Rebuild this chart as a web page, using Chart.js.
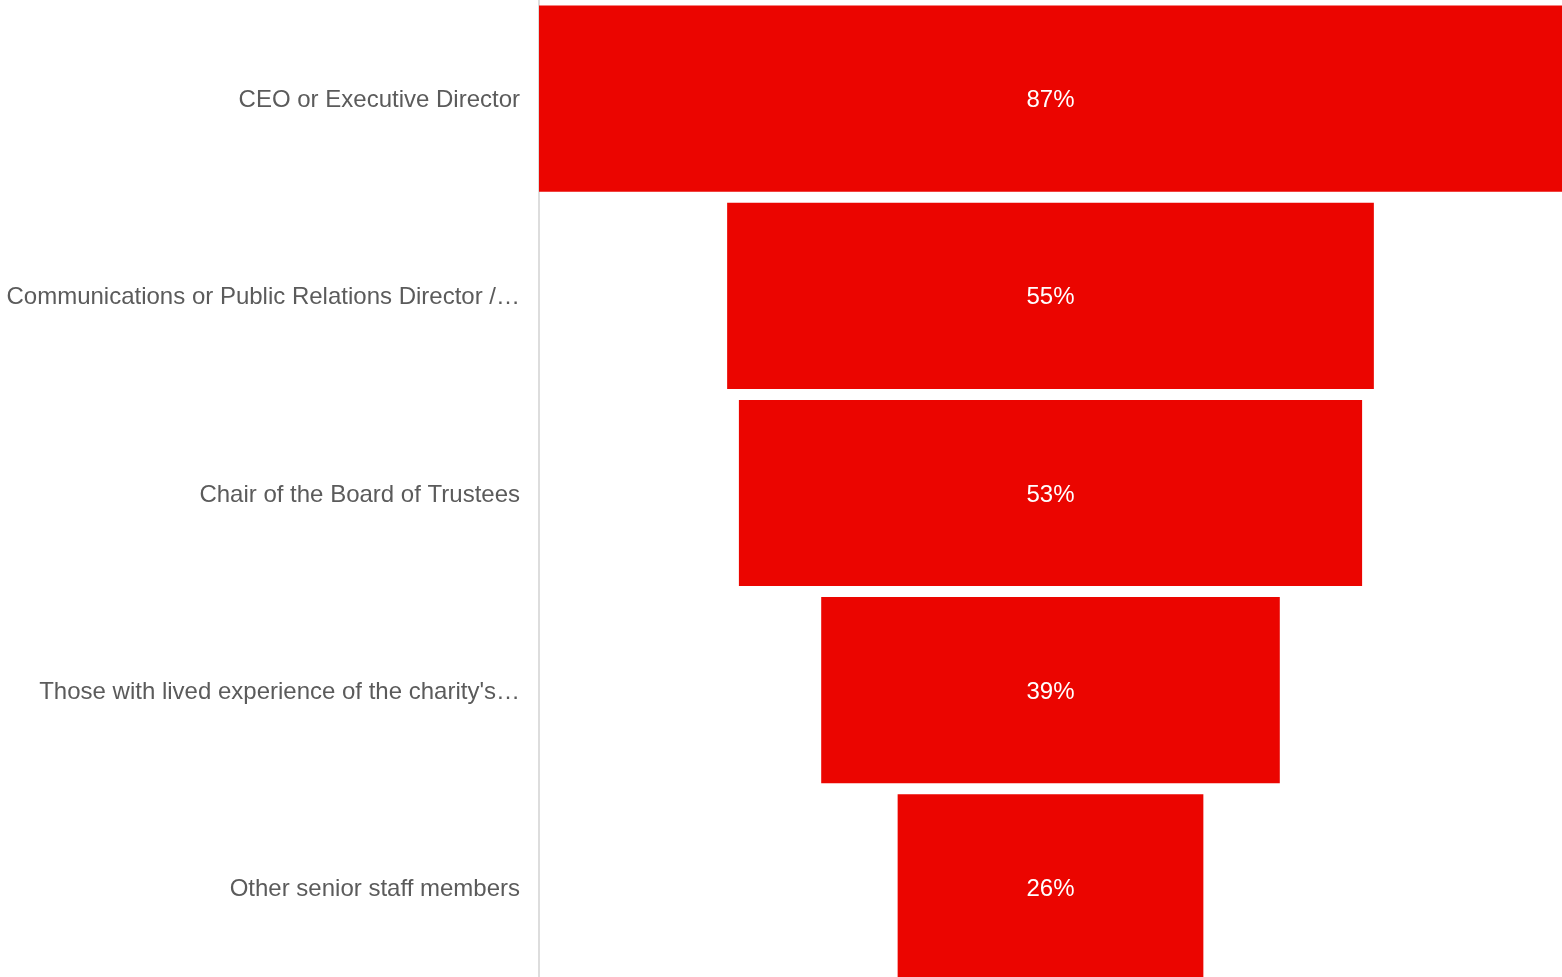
<!DOCTYPE html>
<html>
<head>
<meta charset="utf-8">
<script src="https://cdn.jsdelivr.net/npm/chart.js@4"></script>
<style>
  html, body { margin: 0; padding: 0; background: #ffffff; overflow: hidden; }
  #wrap { position: relative; width: 1562px; height: 986px; }
</style>
</head>
<body>
<div id="wrap"><canvas id="chart"></canvas></div>
<script>
// Who is involved: share of respondents per role
const categories = [
  "CEO or Executive Director",
  "Communications or Public Relations Director /\u2026",
  "Chair of the Board of Trustees",
  "Those with lived experience of the charity's\u2026",
  "Other senior staff members"
];
const shares = [87, 55, 53, 39, 26];
const valueLabels = ["87%", "55%", "53%", "39%", "26%"];

const maxShare = Math.max(...shares);

// Funnel: each bar is centred on zero, spanning half its value each side
const funnelRanges = shares.map(v => [-v / 2, v / 2]);

const centreLabels = {
  id: 'centreLabels',
  afterDatasetsDraw(chart) {
    const { ctx } = chart;
    const meta = chart.getDatasetMeta(0);
    ctx.save();
    ctx.fillStyle = '#ffffff';
    ctx.font = '24px "Liberation Sans", Arial, sans-serif';
    ctx.textAlign = 'center';
    ctx.textBaseline = 'middle';
    meta.data.forEach((bar, i) => {
      const p = bar.getProps(['x', 'base', 'y'], true);
      ctx.fillText(valueLabels[i], (p.x + p.base) / 2, p.y + 2);
    });
    ctx.restore();
  }
};

new Chart(document.getElementById('chart'), {
  type: 'bar',
  data: {
    labels: categories,
    datasets: [{
      data: funnelRanges,
      backgroundColor: '#eb0500',
      borderWidth: 0,
      categoryPercentage: 1,
      barPercentage: 0.944
    }]
  },
  options: {
    indexAxis: 'y',
    responsive: true,
    maintainAspectRatio: false,
    animation: false,
    layout: { padding: 0 },
    plugins: {
      legend: { display: false },
      tooltip: { enabled: false }
    },
    scales: {
      x: {
        display: false,
        min: -maxShare / 2,
        max: maxShare / 2
      },
      y: {
        afterFit(scale) {
          scale.width = 539;
          // let the category bands run edge to edge vertically
          scale.paddingTop = 0;
          scale.paddingBottom = 0;
        },
        grid: { display: false, drawTicks: false },
        border: { display: true, color: '#dddddd', width: 2 },
        ticks: {
          autoSkip: false,
          padding: 19,
          labelOffset: 2,
          color: '#5b5b5b',
          font: { family: '"Liberation Sans", Arial, sans-serif', size: 24 }
        }
      }
    }
  },
  plugins: [centreLabels]
});
</script>
</body>
</html>
